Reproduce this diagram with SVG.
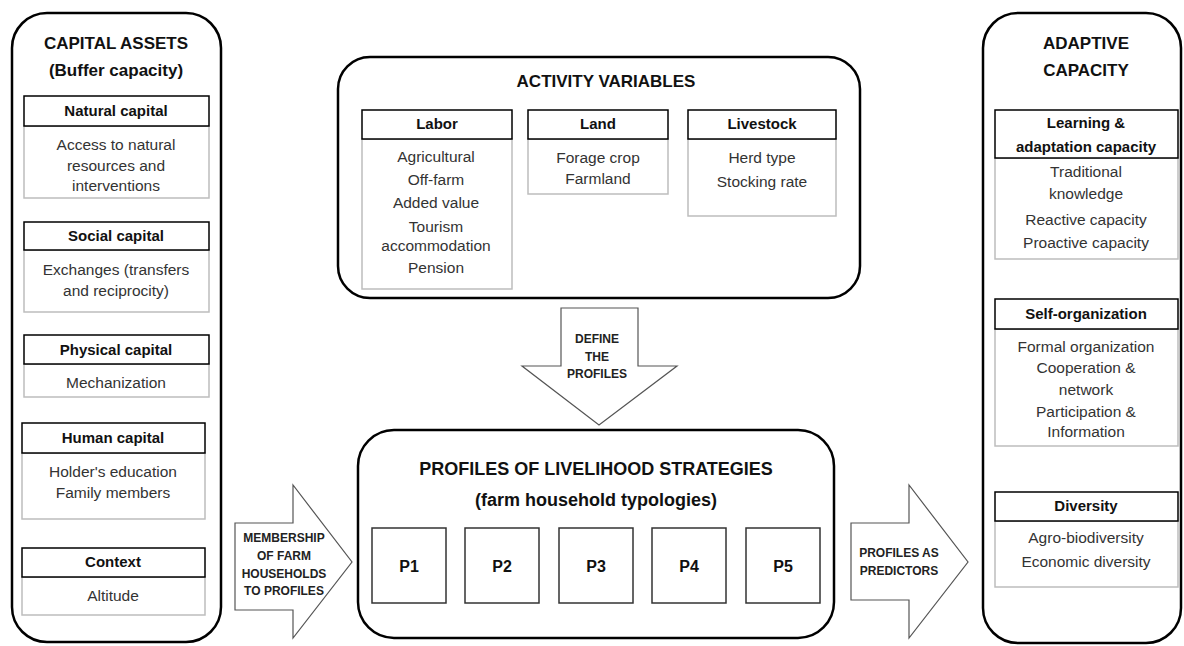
<svg xmlns="http://www.w3.org/2000/svg" width="1184" height="646" viewBox="0 0 1184 646">
<style>
.panel{fill:#fff;stroke:#000;stroke-width:2.5}
.hdr{fill:#fff;stroke:#000;stroke-width:1.5}
.body{fill:#fff;stroke:#bdbdbd;stroke-width:1.5}
.arrow{fill:#fff;stroke:#555;stroke-width:1.2}
.pbox{fill:#fff;stroke:#333;stroke-width:1.5}
text{font-family:"Liberation Sans",Arial,sans-serif;text-anchor:middle}
.title{font-size:17px;font-weight:bold;fill:#111}
.big{font-size:18px;font-weight:bold;fill:#111}
.h{font-size:15px;font-weight:bold;fill:#111}
.t{font-size:15.5px;fill:#333}
.a{font-size:12px;font-weight:bold;fill:#222}
.p{font-size:16px;font-weight:bold;fill:#111}
</style>
<rect width="1184" height="646" fill="#fff"/>

<g id="capital-assets">
<rect class="panel" x="12" y="13" width="209" height="629" rx="35"/>
<text class="title" x="116" y="49">CAPITAL ASSETS</text>
<text class="title" x="116" y="76">(Buffer capacity)</text>
</g>
<g id="natural-capital">
<rect class="body" x="24" y="126" width="185" height="72"/>
<rect class="hdr" x="24" y="96" width="185" height="30"/>
<text class="h" x="116" y="116">Natural capital</text>
<text class="t" x="116" y="150">Access to natural</text>
<text class="t" x="116" y="171">resources and</text>
<text class="t" x="116" y="191">interventions</text>
</g>
<g id="social-capital">
<rect class="body" x="24" y="250" width="185" height="62"/>
<rect class="hdr" x="24" y="222" width="185" height="28"/>
<text class="h" x="116" y="241">Social capital</text>
<text class="t" x="116" y="275">Exchanges (transfers</text>
<text class="t" x="116" y="296">and reciprocity)</text>
</g>
<g id="physical-capital">
<rect class="body" x="24" y="364" width="185" height="33"/>
<rect class="hdr" x="24" y="335" width="185" height="29"/>
<text class="h" x="116" y="355">Physical capital</text>
<text class="t" x="116" y="388">Mechanization</text>
</g>
<g id="human-capital">
<rect class="body" x="22" y="453" width="183" height="66"/>
<rect class="hdr" x="22" y="423" width="183" height="30"/>
<text class="h" x="113" y="443">Human capital</text>
<text class="t" x="113" y="477">Holder's education</text>
<text class="t" x="113" y="498">Family members</text>
</g>
<g id="context">
<rect class="body" x="22" y="577" width="183" height="38"/>
<rect class="hdr" x="22" y="548" width="183" height="29"/>
<text class="h" x="113" y="567">Context</text>
<text class="t" x="113" y="601">Altitude</text>
</g>

<g id="activity-variables">
<rect class="panel" x="338" y="57" width="522" height="241" rx="32"/>
<text class="title" x="606" y="87">ACTIVITY VARIABLES</text>
</g>
<g id="labor">
<rect class="body" x="362" y="139" width="150" height="150"/>
<rect class="hdr" x="362" y="110" width="150" height="29"/>
<text class="h" x="437" y="129">Labor</text>
<text class="t" x="436" y="162">Agricultural</text>
<text class="t" x="436" y="185">Off-farm</text>
<text class="t" x="436" y="208">Added value</text>
<text class="t" x="436" y="232">Tourism</text>
<text class="t" x="436" y="251">accommodation</text>
<text class="t" x="436" y="273">Pension</text>
</g>
<g id="land">
<rect class="body" x="528" y="139" width="140" height="55"/>
<rect class="hdr" x="528" y="110" width="140" height="29"/>
<text class="h" x="598" y="129">Land</text>
<text class="t" x="598" y="163">Forage crop</text>
<text class="t" x="598" y="184">Farmland</text>
</g>
<g id="livestock">
<rect class="body" x="688" y="139" width="148" height="77"/>
<rect class="hdr" x="688" y="110" width="148" height="29"/>
<text class="h" x="762" y="129">Livestock</text>
<text class="t" x="762" y="163">Herd type</text>
<text class="t" x="762" y="187">Stocking rate</text>
</g>

<g id="profiles">
<rect class="panel" x="358" y="430" width="476" height="208" rx="36"/>
<text class="big" x="596" y="475">PROFILES OF LIVELIHOOD STRATEGIES</text>
<text class="big" x="596" y="506">(farm household typologies)</text>
</g>
<g id="p1"><rect class="pbox" x="372" y="528" width="74" height="75"/><text class="p" x="409" y="572">P1</text></g>
<g id="p2"><rect class="pbox" x="465" y="528" width="74" height="75"/><text class="p" x="502" y="572">P2</text></g>
<g id="p3"><rect class="pbox" x="559" y="528" width="74" height="75"/><text class="p" x="596" y="572">P3</text></g>
<g id="p4"><rect class="pbox" x="652" y="528" width="74" height="75"/><text class="p" x="689" y="572">P4</text></g>
<g id="p5"><rect class="pbox" x="746" y="528" width="74" height="75"/><text class="p" x="783" y="572">P5</text></g>

<g id="adaptive-capacity">
<rect class="panel" x="983" y="13" width="198" height="630" rx="35"/>
<text class="title" x="1086" y="49">ADAPTIVE</text>
<text class="title" x="1086" y="76">CAPACITY</text>
</g>
<g id="learning">
<rect class="body" x="995" y="158" width="183" height="101"/>
<rect class="hdr" x="995" y="110" width="183" height="48"/>
<text class="h" x="1086" y="128">Learning &amp;</text>
<text class="h" x="1086" y="152">adaptation capacity</text>
<text class="t" x="1086" y="177">Traditional</text>
<text class="t" x="1086" y="199">knowledge</text>
<text class="t" x="1086" y="225">Reactive capacity</text>
<text class="t" x="1086" y="248">Proactive capacity</text>
</g>
<g id="self-organization">
<rect class="body" x="995" y="329" width="183" height="117"/>
<rect class="hdr" x="995" y="299" width="183" height="30"/>
<text class="h" x="1086" y="319">Self-organization</text>
<text class="t" x="1086" y="352">Formal organization</text>
<text class="t" x="1086" y="373">Cooperation &amp;</text>
<text class="t" x="1086" y="395">network</text>
<text class="t" x="1086" y="417">Participation &amp;</text>
<text class="t" x="1086" y="437">Information</text>
</g>
<g id="diversity">
<rect class="body" x="995" y="521" width="183" height="66"/>
<rect class="hdr" x="995" y="492" width="183" height="29"/>
<text class="h" x="1086" y="511">Diversity</text>
<text class="t" x="1086" y="543">Agro-biodiversity</text>
<text class="t" x="1086" y="567">Economic diversity</text>
</g>

<g id="connectors">
<g id="define-arrow">
<polygon class="arrow" points="561,308 638,308 638,366 677,366 599,425 522,366 561,366"/>
<text class="a" x="597" y="343">DEFINE</text>
<text class="a" x="597" y="361">THE</text>
<text class="a" x="597" y="378">PROFILES</text>
</g>
<g id="membership-arrow">
<polygon class="arrow" points="235,523 293,523 293,485 352,562 293,638 293,610 235,610"/>
<text class="a" x="284" y="542">MEMBERSHIP</text>
<text class="a" x="284" y="560">OF FARM</text>
<text class="a" x="284" y="578">HOUSEHOLDS</text>
<text class="a" x="284" y="595">TO PROFILES</text>
</g>
<g id="predictors-arrow">
<polygon class="arrow" points="851,523 909,523 909,485 968,562 909,638 909,600 851,600"/>
<text class="a" x="899" y="557">PROFILES AS</text>
<text class="a" x="899" y="575">PREDICTORS</text>
</g>
</g>
</svg>
